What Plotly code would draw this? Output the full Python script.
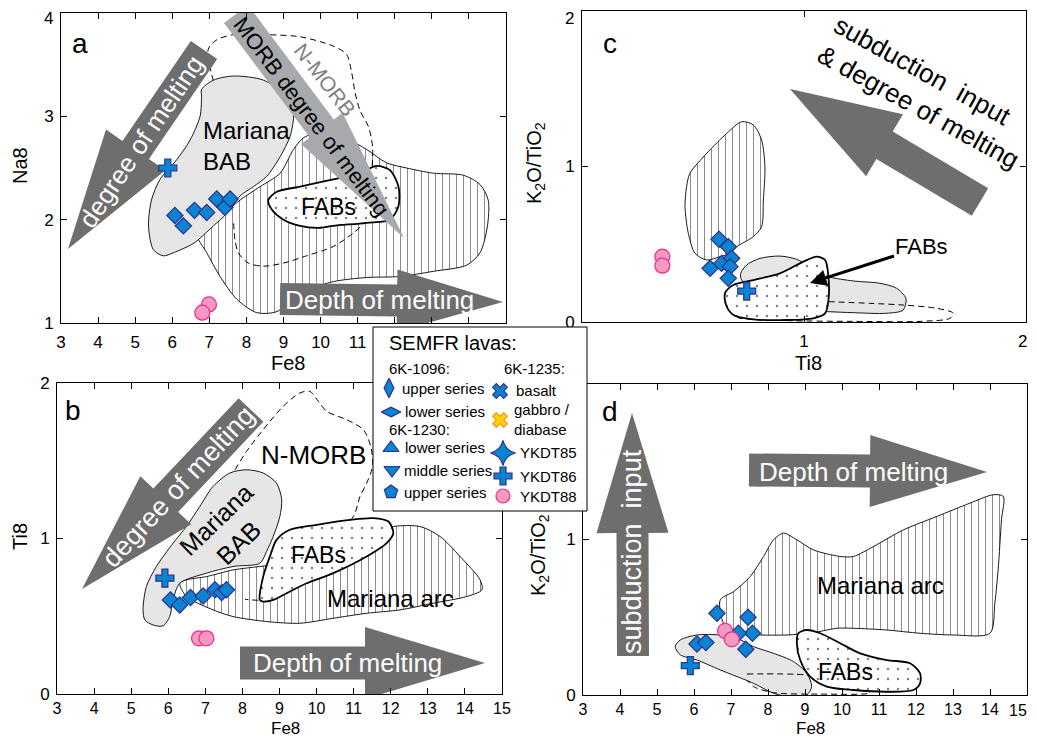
import math
import plotly.graph_objects as go

W, H = 1037, 745          # reference picture size (all pixel positions below are in it)
OFF = 8                   # page margin around the plot div
FW, FH = W - 2 * OFF, H - 2 * OFF
FONT = "Arial, Liberation Sans, sans-serif"

# ---------------- sample data ----------------
# Panel a: Fe8 vs Na8
a_dia_fe8 = [6.07, 6.30, 6.60, 6.93, 7.20, 7.42, 7.56]
a_dia_na8 = [2.04, 1.94, 2.09, 2.07, 2.20, 2.12, 2.20]
a_y86_fe8 = [5.88]
a_y86_na8 = [2.50]
a_y88_fe8 = [6.99, 6.81]
a_y88_na8 = [1.18, 1.10]

# Panel c: Ti8 vs K2O/TiO2
c_dia_ti8 = [0.617, 0.659, 0.577, 0.629, 0.674, 0.667, 0.659]
c_dia_kt = [0.532, 0.484, 0.345, 0.377, 0.410, 0.356, 0.281]
c_y86_ti8 = [0.742]
c_y86_kt = [0.199]
c_y88_ti8 = [0.362, 0.362]
c_y88_kt = [0.420, 0.362]

# Panel b: Fe8 vs Ti8
b_dia_fe8 = [6.06, 6.31, 6.60, 6.94, 7.26, 7.44, 7.57]
b_dia_ti8 = [0.605, 0.573, 0.620, 0.630, 0.670, 0.652, 0.670]
b_y86_fe8 = [5.91]
b_y86_ti8 = [0.745]
b_y88_fe8 = [6.83, 7.03]
b_y88_ti8 = [0.358, 0.358]

# Panel d: Fe8 vs K2O/TiO2
d_dia_fe8 = [6.62, 6.08, 6.32, 7.46, 7.58, 7.40, 7.20]
d_dia_kt = [0.526, 0.328, 0.337, 0.500, 0.397, 0.294, 0.397]
d_y86_fe8 = [5.90]
d_y86_kt = [0.189]
d_y88_fe8 = [6.84, 7.02]
d_y88_kt = [0.412, 0.358]

# tick labels
fe_labels_a = [3, 4, 5, 6, 7, 8, 9, 10, 11]
fe_unlabelled_a = [12, 13, 14, 15]
fe_labels = list(range(3, 16))
fe_labels_d = list(range(3, 15))
na_labels = [1, 2, 3]
ti_labels_c = [1]
ratio_labels_c = [0, 1]
ratio_labels = [0, 1, 2]

# ---------------- field outlines ----------------
a_bab_x = [6.79, 7.11, 7.65, 8.46, 9.09, 9.27, 9.18, 8.91, 8.55, 8.19, 7.83, 7.47, 7.11, 6.57, 6.03, 5.76, 5.49, 5.36, 5.44, 5.67, 6.12, 6.48, 6.75, 6.79]
a_bab_y = [3.26, 3.35, 3.39, 3.35, 3.19, 3.03, 2.81, 2.61, 2.42, 2.32, 2.23, 2.06, 1.94, 1.77, 1.68, 1.65, 1.71, 1.94, 2.19, 2.39, 2.58, 2.77, 3.00, 3.19]
a_arc_x = [6.66, 6.93, 7.29, 7.74, 8.28, 8.82, 9.45, 10.34, 11.24, 12.14, 13.04, 13.94, 14.30, 14.50, 14.52, 14.30, 13.85, 13.04, 12.32, 11.78, 11.24, 10.79, 10.34, 9.89, 9.53, 9.27, 8.91, 8.37, 7.83, 7.29]
a_arc_y = [1.87, 1.68, 1.45, 1.23, 1.10, 1.11, 1.29, 1.40, 1.44, 1.45, 1.50, 1.56, 1.68, 1.94, 2.19, 2.34, 2.43, 2.45, 2.50, 2.55, 2.68, 2.77, 2.84, 2.84, 2.79, 2.68, 2.45, 2.32, 2.19, 2.03]
a_fab_x = [8.59, 8.82, 9.45, 10.34, 11.06, 11.51, 11.87, 12.10, 12.10, 11.87, 11.24, 10.34, 9.89, 9.45, 9.00, 8.68]
a_fab_y = [2.19, 2.27, 2.32, 2.39, 2.45, 2.52, 2.48, 2.32, 2.13, 2.00, 1.97, 1.94, 1.92, 1.94, 2.00, 2.10]
a_morb_x = [7.11, 6.97, 7.20, 7.65, 8.55, 9.45, 10.34, 10.70, 10.84, 10.93, 11.06, 11.29, 11.40, 11.38, 11.31, 11.24, 10.88, 10.34, 9.62, 9.00, 8.46, 8.05, 7.78, 7.69, 7.65]
a_morb_y = [3.34, 3.65, 3.74, 3.79, 3.79, 3.77, 3.68, 3.60, 3.42, 3.23, 3.06, 2.90, 2.71, 2.45, 2.19, 2.00, 1.87, 1.74, 1.65, 1.58, 1.55, 1.58, 1.68, 1.81, 2.00]

c_arc_x = [0.471, 0.486, 0.562, 0.652, 0.719, 0.772, 0.809, 0.824, 0.817, 0.809, 0.772, 0.697, 0.667, 0.622, 0.562, 0.509, 0.479, 0.464]
c_arc_y = [0.870, 0.956, 1.085, 1.213, 1.288, 1.267, 1.170, 0.999, 0.785, 0.613, 0.549, 0.484, 0.442, 0.420, 0.399, 0.442, 0.570, 0.742]
c_bab_x = [0.715, 0.742, 0.802, 0.892, 0.967, 1.027, 1.110, 1.222, 1.342, 1.417, 1.459, 1.447, 1.372, 1.222, 1.117, 0.997, 0.772, 0.719]
c_bab_y = [0.313, 0.367, 0.409, 0.424, 0.403, 0.356, 0.292, 0.264, 0.249, 0.217, 0.152, 0.077, 0.056, 0.060, 0.066, 0.077, 0.227, 0.270]
c_fab_x = [0.644, 0.682, 0.772, 0.892, 0.997, 1.057, 1.095, 1.110, 1.110, 1.095, 1.042, 0.922, 0.772, 0.682, 0.649]
c_fab_y = [0.184, 0.238, 0.270, 0.313, 0.388, 0.420, 0.399, 0.292, 0.141, 0.056, 0.024, 0.013, 0.017, 0.045, 0.109]
c_morb_x = [1.110, 1.297, 1.447, 1.598, 1.673, 1.658, 1.523, 1.222, 0.922, 0.712, 0.682]
c_morb_y = [0.131, 0.120, 0.109, 0.088, 0.056, 0.024, 0.004, 0.004, 0.009, 0.024, 0.039]

b_bab_x = [5.32, 5.41, 5.68, 6.13, 6.49, 6.85, 7.21, 7.66, 8.11, 8.56, 8.92, 9.06, 9.01, 8.83, 8.65, 8.47, 7.75, 7.03, 6.31, 6.13, 6.04, 5.86, 5.59, 5.37]
b_bab_y = [0.541, 0.691, 0.820, 0.970, 1.077, 1.206, 1.335, 1.421, 1.442, 1.421, 1.356, 1.249, 1.142, 1.013, 0.916, 0.841, 0.820, 0.777, 0.712, 0.605, 0.498, 0.438, 0.444, 0.476]
b_arc_x = [6.31, 6.49, 7.03, 7.75, 8.47, 9.19, 10.09, 10.90, 11.53, 12.07, 12.79, 13.33, 13.87, 14.41, 14.46, 14.05, 13.15, 12.25, 11.35, 10.45, 9.55, 8.65, 7.75, 7.21, 6.49]
b_arc_y = [0.712, 0.734, 0.755, 0.798, 0.820, 0.841, 0.884, 0.948, 1.034, 1.077, 1.077, 1.013, 0.884, 0.734, 0.670, 0.627, 0.584, 0.541, 0.519, 0.487, 0.455, 0.466, 0.498, 0.541, 0.627]
b_fab_x = [8.47, 8.56, 8.74, 8.92, 9.28, 10.00, 10.90, 11.53, 11.94, 12.07, 11.89, 11.35, 10.45, 9.73, 9.19, 8.83, 8.56]
b_fab_y = [0.605, 0.755, 0.884, 0.991, 1.056, 1.088, 1.120, 1.131, 1.109, 1.034, 0.970, 0.884, 0.777, 0.712, 0.648, 0.605, 0.594]
b_morb_x = [7.80, 8.11, 8.56, 9.10, 9.55, 9.82, 10.05, 10.27, 10.81, 11.26, 11.46, 11.51, 11.35, 11.17, 10.99, 9.19, 8.65, 8.07]
b_morb_y = [1.442, 1.560, 1.700, 1.850, 1.936, 1.946, 1.882, 1.818, 1.764, 1.700, 1.592, 1.464, 1.356, 1.270, 1.142, 0.712, 0.609, 0.609]

d_arc_x = [6.71, 7.07, 7.52, 7.88, 8.15, 8.42, 8.78, 9.23, 9.95, 10.31, 10.85, 11.66, 12.56, 13.46, 14.09, 14.36, 14.31, 14.22, 14.13, 14.00, 13.01, 12.11, 11.21, 10.31, 9.86, 9.14, 8.51, 7.79, 7.16, 6.80]
d_arc_y = [0.612, 0.665, 0.762, 0.891, 0.998, 1.041, 0.998, 0.933, 0.891, 0.891, 0.955, 1.062, 1.148, 1.234, 1.288, 1.277, 1.127, 0.805, 0.590, 0.397, 0.386, 0.397, 0.418, 0.429, 0.429, 0.397, 0.386, 0.386, 0.397, 0.461]
d_bab_x = [5.49, 5.63, 6.08, 6.71, 7.16, 7.61, 8.15, 8.69, 9.05, 9.18, 9.05, 8.69, 8.15, 7.61, 6.71, 6.08, 5.63]
d_bab_y = [0.311, 0.354, 0.386, 0.386, 0.365, 0.311, 0.268, 0.215, 0.139, 0.054, 0.000, -0.015, 0.011, 0.075, 0.161, 0.225, 0.258]
d_fab_x = [8.82, 9.05, 9.41, 9.95, 10.49, 11.21, 11.84, 12.11, 12.11, 11.93, 11.21, 10.31, 9.59, 9.14, 8.87, 8.78]
d_fab_y = [0.397, 0.418, 0.397, 0.333, 0.268, 0.225, 0.204, 0.139, 0.075, 0.032, 0.021, 0.032, 0.054, 0.118, 0.225, 0.333]
d_morb_x = [7.43, 9.05, 10.31, 10.76, 9.41, 8.15, 7.61, 7.43]
d_morb_y = [0.135, 0.129, 0.075, 0.015, 0.006, 0.015, 0.054, 0.097]

# ---------------- panel geometry (pixels) ----------------
PANELS = {
    'a': dict(xa='x', ya='y', left=61, right=506, top=13, bottom=323, xr=[3, 15], yr=[1, 4]),
    'c': dict(xa='x2', ya='y2', left=582, right=1026, top=11, bottom=322, xr=[0, 2], yr=[0, 2]),
    'b': dict(xa='x3', ya='y3', left=57, right=502, top=383, bottom=694, xr=[3, 15], yr=[0, 2]),
    'd': dict(xa='x4', ya='y4', left=583, right=1027, top=384, bottom=695, xr=[3, 15], yr=[0, 2]),
}

BLUE = '#0a84d0'
BLUE_LINE = '#2e3192'
PINK = '#f49ac1'
PINK_LINE = '#ec2a8c'
DARK = '#6e6e6e'
LIGHT = '#a7a9ac'
BABFILL = '#e6e6e6'

fig = go.Figure()


def PX(px):
    return (px - OFF) / FW


def PY(py):
    return 1 - (py - OFF) / FH


def px2data(p, px, py):
    P = PANELS[p]
    x = P['xr'][0] + (px - P['left']) / (P['right'] - P['left']) * (P['xr'][1] - P['xr'][0])
    y = P['yr'][0] + (P['bottom'] - py) / (P['bottom'] - P['top']) * (P['yr'][1] - P['yr'][0])
    return x, y


def region(p, xs, ys, kind):
    P = PANELS[p]
    common = dict(xaxis=P['xa'], yaxis=P['ya'], hoverinfo='skip', showlegend=False)
    if kind == 'morb':
        fig.add_trace(go.Scatter(x=xs, y=ys, mode='lines',
                                 line=dict(color='black', width=1, dash='6px,4px', shape='spline', smoothing=0.8),
                                 **common))
        return
    xx = list(xs) + [xs[0]]
    yy = list(ys) + [ys[0]]
    if kind == 'arc':
        fig.add_trace(go.Scatter(x=xx, y=yy, mode='lines', fill='toself', fillcolor='white',
                                 fillpattern=dict(shape='|', fgcolor='black', bgcolor='white', size=7, solidity=0.13),
                                 line=dict(color='black', width=0.9, shape='spline', smoothing=0.8), **common))
    elif kind == 'bab':
        fig.add_trace(go.Scatter(x=xx, y=yy, mode='lines', fill='toself', fillcolor=BABFILL,
                                 line=dict(color='black', width=0.9, shape='spline', smoothing=0.8), **common))
    elif kind == 'fab':
        fig.add_trace(go.Scatter(x=xx, y=yy, mode='lines', fill='toself', fillcolor='white',
                                 fillpattern=dict(shape='.', fgcolor='black', bgcolor='white', size=10, solidity=0.05),
                                 line=dict(color='black', width=1.8, shape='spline', smoothing=0.8), **common))


def arrow(p, tail, tip, w, hw, hl, color):
    tx, ty = tail
    qx, qy = tip
    L = math.hypot(qx - tx, qy - ty)
    ux, uy = (qx - tx) / L, (qy - ty) / L
    nx, ny = -uy, ux
    bx, by = qx - hl * ux, qy - hl * uy
    pts = [(tx + w * nx, ty + w * ny), (bx + w * nx, by + w * ny), (bx + hw * nx, by + hw * ny),
           (qx, qy), (bx - hw * nx, by - hw * ny), (bx - w * nx, by - w * ny), (tx - w * nx, ty - w * ny),
           (tx + w * nx, ty + w * ny)]
    dx, dy = zip(*[px2data(p, a, b) for a, b in pts])
    P = PANELS[p]
    fig.add_trace(go.Scatter(x=list(dx), y=list(dy), mode='lines', fill='toself', fillcolor=color,
                             line=dict(width=0, color=color), xaxis=P['xa'], yaxis=P['ya'],
                             hoverinfo='skip', showlegend=False))


def samples(p, dx, dy, cx, cy, rx, ry):
    P = PANELS[p]
    common = dict(xaxis=P['xa'], yaxis=P['ya'], mode='markers', showlegend=False, hoverinfo='skip')
    fig.add_trace(go.Scatter(x=dx, y=dy, marker=dict(symbol='diamond', size=12.5, color=BLUE,
                                                     line=dict(color=BLUE_LINE, width=1.2)), **common))
    fig.add_trace(go.Scatter(x=cx, y=cy, marker=dict(symbol='cross', size=15, color=BLUE,
                                                     line=dict(color=BLUE_LINE, width=1.2)), **common))
    fig.add_trace(go.Scatter(x=rx, y=ry, marker=dict(symbol='circle', size=15, color=PINK,
                                                     line=dict(color=PINK_LINE, width=1.2)), **common))


# ---- panel a ----
region('a', a_arc_x, a_arc_y, 'arc')
region('a', a_morb_x, a_morb_y, 'morb')
region('a', a_bab_x, a_bab_y, 'bab')
region('a', a_fab_x, a_fab_y, 'fab')
arrow('a', (204, 50), (68, 249), 16, 36, 120, DARK)
arrow('a', (236, 14), (404, 238), 15, 26, 137, LIGHT)
arrow('a', (280, 299), (503, 302), 16, 31, 106, DARK)
samples('a', a_dia_fe8, a_dia_na8, a_y86_fe8, a_y86_na8, a_y88_fe8, a_y88_na8)

# ---- panel c ----
region('c', c_arc_x, c_arc_y, 'arc')
region('c', c_bab_x, c_bab_y, 'bab')
region('c', c_morb_x, c_morb_y, 'morb')
region('c', c_fab_x, c_fab_y, 'fab')
arrow('c', (980, 202), (790, 89), 16, 36, 110, DARK)
samples('c', c_dia_ti8, c_dia_kt, c_y86_ti8, c_y86_kt, c_y88_ti8, c_y88_kt)

# ---- panel b ----
region('b', b_arc_x, b_arc_y, 'arc')
region('b', b_morb_x, b_morb_y, 'morb')
region('b', b_bab_x, b_bab_y, 'bab')
region('b', b_fab_x, b_fab_y, 'fab')
arrow('b', (251, 410), (82, 589), 17, 35, 122, DARK)
arrow('b', (240, 663), (485, 663), 16.5, 36, 120, DARK)
samples('b', b_dia_fe8, b_dia_ti8, b_y86_fe8, b_y86_ti8, b_y88_fe8, b_y88_ti8)

# ---- panel d ----
region('d', d_arc_x, d_arc_y, 'arc')
region('d', d_bab_x, d_bab_y, 'bab')
region('d', d_morb_x, d_morb_y, 'morb')
region('d', d_fab_x, d_fab_y, 'fab')
arrow('d', (633, 656), (632, 413), 16, 36, 120, DARK)
arrow('d', (749, 470), (987, 472), 16.5, 36, 117, DARK)
samples('d', d_dia_fe8, d_dia_kt, d_y86_fe8, d_y86_kt, d_y88_fe8, d_y88_kt)

# ---- legend (overlay axis in reference pixel units) ----
lg = dict(xaxis='x5', yaxis='y5', showlegend=False, hoverinfo='skip')
fig.add_trace(go.Scatter(x=[373, 587, 587, 373, 373], y=[327, 327, 511, 511, 327], mode='lines',
                         fill='toself', fillcolor='white', line=dict(color='black', width=1), **lg))
legend_items = [
    ('diamond-tall', 389, 388, BLUE, BLUE_LINE, 14),
    ('diamond-wide', 391, 412, BLUE, BLUE_LINE, 14),
    ('triangle-up', 391, 448, BLUE, BLUE_LINE, 14),
    ('triangle-down', 392, 470, BLUE, BLUE_LINE, 14),
    ('pentagon', 391, 492, BLUE, BLUE_LINE, 14),
    ('x', 500, 391, BLUE, BLUE_LINE, 13),
    ('x', 500, 420, '#ffd200', '#f7941d', 13),
    ('star-diamond', 503, 453, BLUE, BLUE_LINE, 18),
    ('cross', 503, 476, BLUE, BLUE_LINE, 15),
    ('circle', 503, 496, PINK, PINK_LINE, 14),
]
for sym, lx, ly, col, lcol, sz in legend_items:
    fig.add_trace(go.Scatter(x=[lx], y=[ly], mode='markers',
                             marker=dict(symbol=sym, size=sz, color=col, line=dict(color=lcol, width=1.2)), **lg))

annotations = []


def ann(px, py, text, size=16, color='black', angle=0, xanchor='center', align='center'):
    annotations.append(dict(x=PX(px), y=PY(py), xref='paper', yref='paper', text=text,
                            showarrow=False, textangle=angle, xanchor=xanchor, yanchor='middle',
                            align=align, font=dict(family=FONT, size=size, color=color)))


# legend text
ann(387, 343, 'SEMFR lavas:', 20, xanchor='left')
for tx, lx, ly in [('6K-1096:', 387, 368), ('6K-1235:', 502, 368), ('upper series', 400, 388),
                   ('lower series', 403, 411), ('6K-1230:', 387, 430), ('lower series', 403, 448),
                   ('middle series', 402, 470), ('upper series', 402, 492), ('basalt', 514, 390),
                   ('gabbro /', 512, 409), ('diabase', 512, 430), ('YKDT85', 518, 453),
                   ('YKDT86', 518, 476), ('YKDT88', 518, 496)]:
    ann(lx, ly, tx, 15, xanchor='left')

# panel letters
ann(80, 43, 'a', 28)
ann(610, 43, 'c', 28)
ann(73, 410, 'b', 28)
ann(610, 412, 'd', 28)

# tick labels at the page edges, nudged inside the page
ann(55, 18, '4', 17, xanchor='right')
ann(576, 18, '2', 17, xanchor='right')
ann(1029, 341, '2', 17, xanchor='right')
ann(1029, 710, '15', 16, xanchor='right')

# axis titles
ann(20, 166, 'Na8', 20, angle=-90)
ann(288, 363, 'Fe8', 20)
ann(536, 163, 'K<sub>2</sub>O/TiO<sub>2</sub>', 20, angle=-90)
ann(808, 363, 'Ti8', 20)
ann(20, 537, 'Ti8', 20, angle=-90)
ann(285, 728, 'Fe8', 17)
ann(539, 555, 'K<sub>2</sub>O/TiO<sub>2</sub>', 20, angle=-90)
ann(810, 728, 'Fe8', 17)

# field and arrow labels, panel a
ann(201, 146, 'Mariana<br>BAB', 24, xanchor='left', align='left')
ann(328, 207, 'FABs', 23)
ann(325, 79, 'N-MORB', 21, color='#808080', angle=52)
ann(311, 117, 'MORB degree of melting', 22, angle=53)
ann(141, 142, 'degree of melting', 26, color='white', angle=-56)
ann(379, 300, 'Depth of melting', 26, color='white')

# panel c
ann(926, 92, 'subduction  input<br>& degree of melting', 26, angle=29, align='left')
annotations.append(dict(x=1.027, y=0.251, xref='x2', yref='y2', ax=112, ay=-36,
                        text='FABs', showarrow=True, arrowhead=2, arrowsize=1.1, arrowwidth=3,
                        arrowcolor='black', font=dict(family=FONT, size=22, color='black')))

# panel b
ann(313, 455, 'N-MORB', 26)
ann(227, 531, 'Mariana<br>BAB', 25, angle=-44)
ann(318, 555, 'FABs', 23)
ann(390, 598, 'Mariana arc', 24)
ann(178, 487, 'degree of melting', 27, color='white', angle=-47)
ann(347, 663, 'Depth of melting', 26, color='white')

# panel d
ann(632, 552, 'subduction  input', 27, color='white', angle=-90)
ann(853, 472, 'Depth of melting', 26, color='white')
ann(880, 585, 'Mariana arc', 24)
ann(845, 672, 'FABs', 23)


def axis(domain, rng, tickvals, anchor, standoff=0, minor_vals=None, fsize=17):
    d = dict(domain=domain, range=rng, tickvals=tickvals, showline=True, linecolor='black', linewidth=1,
             mirror='ticks', ticks='inside', ticklen=6, tickcolor='black', tickwidth=1, showgrid=False,
             zeroline=False, tickfont=dict(family=FONT, size=fsize, color='black'), fixedrange=True,
             anchor=anchor, ticklabelstandoff=standoff, automargin=False, ticklabeloverflow='allow')
    if minor_vals is not None:
        d['minor'] = dict(tickvals=minor_vals, ticks='inside', ticklen=6, tickcolor='black', showgrid=False)
    return d


def dom_x(p):
    P = PANELS[p]
    return [PX(P['left']), PX(P['right'])]


def dom_y(p):
    P = PANELS[p]
    return [PY(P['bottom']), PY(P['top'])]


fig.update_layout(
    width=FW, height=FH, margin=dict(l=0, r=0, t=0, b=0, autoexpand=False),
    paper_bgcolor='white', plot_bgcolor='rgba(0,0,0,0)', showlegend=False,
    xaxis=axis(dom_x('a'), [3, 15], fe_labels_a, 'y', 4, fe_unlabelled_a),
    yaxis=axis(dom_y('a'), [1, 4], na_labels, 'x', 3, [4]),
    xaxis2=axis(dom_x('c'), [0, 2], ti_labels_c, 'y2', 4, [0, 2]),
    yaxis2=axis(dom_y('c'), [0, 2], ratio_labels_c, 'x2', 3, [2]),
    xaxis3=axis(dom_x('b'), [3, 15], fe_labels, 'y3', 0, None, 16),
    yaxis3=axis(dom_y('b'), [0, 2], ratio_labels, 'x3', 3),
    xaxis4=axis(dom_x('d'), [3, 15], fe_labels_d, 'y4', 0, [15], 16),
    yaxis4=axis(dom_y('d'), [0, 2], ratio_labels, 'x4', 3),
    xaxis5=dict(domain=[0, 1], range=[OFF, OFF + FW], visible=False, anchor='y5', fixedrange=True, automargin=False),
    yaxis5=dict(domain=[0, 1], range=[OFF + FH, OFF], visible=False, anchor='x5', fixedrange=True, automargin=False),
    annotations=annotations,
)

fig.write_html("out.html")
